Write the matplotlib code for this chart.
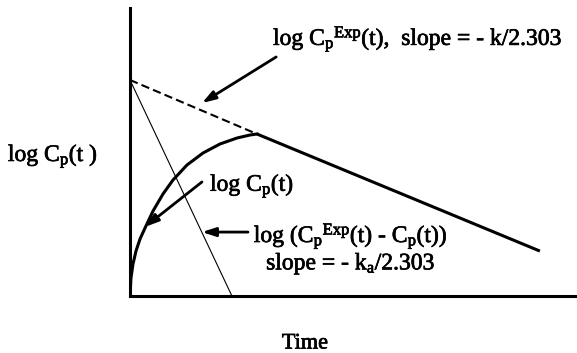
import matplotlib
matplotlib.use("Agg")
import matplotlib.pyplot as plt
import matplotlib.patheffects as pe

plt.rcParams["font.family"] = ["Liberation Serif", "DejaVu Serif"]
plt.rcParams["mathtext.fontset"] = "custom"
plt.rcParams["mathtext.rm"] = "Liberation Serif"
plt.rcParams["mathtext.it"] = "Liberation Serif:italic"

# Terminal (elimination) phase, extrapolated back to t = 0
exp_time = [0.0, 2.84, 9.17]
exp_logc = [7.50, 5.625, 1.56]

# Residual line (absorption phase)
res_time = [0.0, 2.28]
res_logc = [7.50, 0.0]

# Observed log plasma concentration during the rising part
obs_time = [0.0, 0.022, 0.067, 0.134, 0.224, 0.336, 0.515, 0.738, 0.962,
            1.275, 1.633, 2.013, 2.394, 2.685, 2.84]
obs_logc = [0.0, 0.625, 1.111, 1.5625, 1.979, 2.361, 2.951, 3.542, 4.028,
            4.549, 4.965, 5.278, 5.486, 5.590, 5.625]

W, H = 577, 353
fig = plt.figure(figsize=(W / 100, H / 100), dpi=100)
ax = fig.add_axes([130 / W, (H - 296) / H, (W - 130) / W, 288 / H])
ax.set_xlim(0, 10)
ax.set_ylim(0, 10)

for side in ("top", "right"):
    ax.spines[side].set_visible(False)
for side in ("left", "bottom"):
    ax.spines[side].set_linewidth(2.2)
    ax.spines[side].set_color("black")
ax.set_xticks([])
ax.set_yticks([])

# dashed extrapolation up to where the observed curve joins the line
ax.plot(exp_time[:2], exp_logc[:2], color="black", lw=1.5,
        linestyle=(0, (4, 2)), solid_capstyle="butt")
# solid terminal phase
ax.plot(exp_time[1:], exp_logc[1:], color="black", lw=2.2,
        solid_capstyle="butt")
# residual line
ax.plot(res_time, res_logc, color="black", lw=0.8, clip_on=False)
# observed curve
ax.plot(obs_time, obs_logc, color="black", lw=2.2, solid_joinstyle="round")

fs = 17
heavy = [pe.withStroke(linewidth=0.5, foreground="black")]
arrow_kw = dict(arrowstyle="-|>,head_length=0.8,head_width=0.26",
                color="black", lw=2.0, shrinkA=0, shrinkB=0)

ax.text(3.20, 8.72,
        r"log C$_\mathrm{p}$$^\mathrm{Exp}$(t),  slope = - k/2.303",
        fontsize=fs, ha="left", va="baseline", clip_on=False,
        path_effects=heavy)
ax.annotate("", xy=(1.61, 6.70), xytext=(3.27, 8.30), arrowprops=arrow_kw)

ax.text(1.79, 3.65, r"log C$_\mathrm{p}$(t)", fontsize=fs,
        ha="left", va="baseline", path_effects=heavy)
ax.annotate("", xy=(0.336, 2.40), xytext=(1.61, 3.96), arrowprops=arrow_kw)

ax.text(4.94, 1.875,
        r"log (C$_\mathrm{p}$$^\mathrm{Exp}$(t) - C$_\mathrm{p}$(t))",
        fontsize=fs, ha="center", va="baseline", path_effects=heavy)
ax.text(4.94, 0.92, r"slope = - k$_\mathrm{a}$/2.303", fontsize=fs,
        ha="center", va="baseline", path_effects=heavy)
ax.annotate("", xy=(1.61, 2.22), xytext=(2.64, 2.22), arrowprops=arrow_kw)

# axis titles
fig.text(98 / W, 1 - 156 / H, r"log C$_\mathrm{p}$(t )", fontsize=fs,
         ha="right", va="center", path_effects=heavy)
fig.text(305 / W, 1 - 344 / H, "Time", fontsize=fs - 1, ha="center",
         va="center", path_effects=heavy)

fig.savefig("out.png", dpi=100, facecolor="white")
